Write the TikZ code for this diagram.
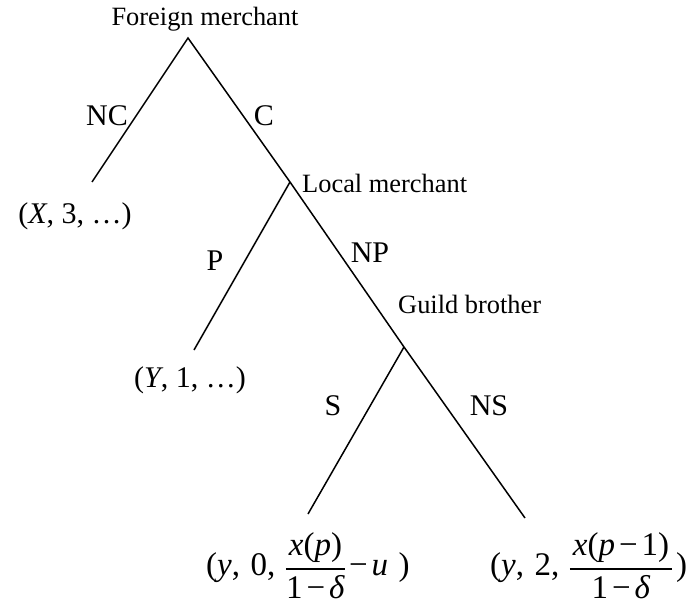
\documentclass[tikz,border=0pt]{standalone}
\usepackage{fontspec}
\setmainfont{Liberation Serif}
\newcommand\va[1]{\textit{#1}}
\newcommand\msp{\hspace{0.12em}}
\newcommand\csp{\hspace{0.32em}}
\newcommand\myfr[2]{\lower23.6pt\vbox{\offinterlineskip\halign{\hfil##\hfil\cr
\vrule height25pt depth13pt width0pt\hspace{3pt}#1\hspace{3pt}\cr
\noalign{\hrule height1.2pt}
\vrule height29pt depth2pt width0pt #2\cr}}}
\begin{document}
\begin{tikzpicture}[x=1pt,y=-1pt,
  edge/.style={line width=1.5pt, line join=miter},
  player/.style={font=\fontsize{26.4}{30}\selectfont, inner sep=0pt},
  lbl/.style={font=\fontsize{30}{36}\selectfont, inner sep=0pt},
  pay/.style={font=\fontsize{33}{40}\selectfont, inner sep=0pt}]
\useasboundingbox (0,0) rectangle (694,607);
\coordinate (fm) at (188,38);
\coordinate (xo) at (92,182);
\coordinate (lm) at (290,182);
\coordinate (yo) at (194,350);
\coordinate (gb) at (404,347);
\coordinate (so) at (308,514);
\coordinate (ns) at (525,518);
\draw[edge] (xo) -- (fm) -- (lm) -- (gb) -- (ns);
\draw[edge] (yo) -- (lm);
\draw[edge] (so) -- (gb);
\node[player, anchor=base] (fmt) at (205,26) {Foreign merchant};
\node[player, anchor=base west] (lmt) at (302,193) {Local merchant};
\node[player, anchor=base west] (gbt) at (398,313) {Guild brother};
\node[lbl, anchor=base] (nc) at (107,126) {NC};
\node[lbl, anchor=base] (c) at (264,126) {C};
\node[lbl, anchor=base] (p) at (215,270) {P};
\node[lbl, anchor=base] (np) at (370,262) {NP};
\node[lbl, anchor=base] (s) at (333,415) {S};
\node[lbl, anchor=base] (nsl) at (489,415) {NS};
\node[lbl, anchor=base] (px) at (75,223) {(\va{X}, 3, …)};
\node[lbl, anchor=base] (py) at (190,387) {(\va{Y}, 1, …)};
\node[pay, anchor=base west] (ps) at (206,575) {(\va{y},\csp0,\csp\myfr{\va{x}(\va{p})}{1\msp−\msp\va{δ}}\msp−\msp\va{u}\csp)};
\node[pay, anchor=base west] (pns) at (490,575) {(\va{y},\csp2,\csp\myfr{\va{x}(\va{p}\msp−\msp1)}{1\msp−\msp\va{δ}}\msp)};
\end{tikzpicture}
\end{document}
